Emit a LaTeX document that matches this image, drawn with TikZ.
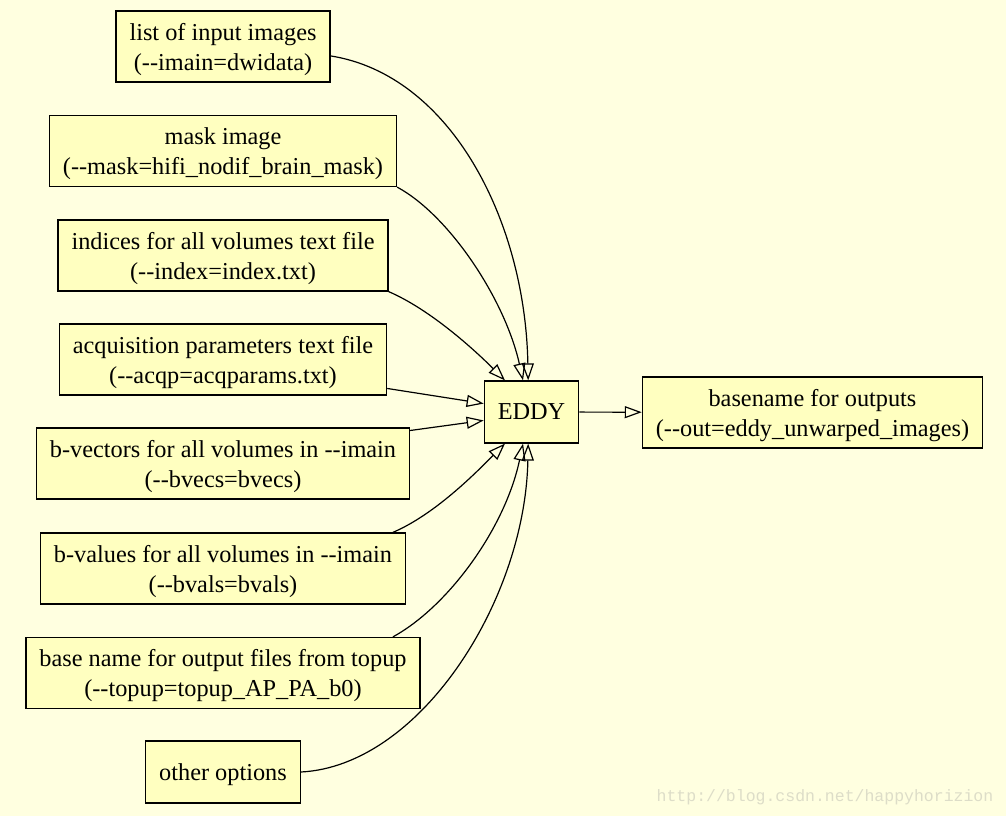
\documentclass[tikz,border=0pt]{standalone}
\usepackage{fontspec}
\setmainfont{Liberation Serif}[Ligatures=TeXOff]
\newfontfamily\markfont{Liberation Mono}
\usetikzlibrary{arrows.meta}
\definecolor{pagebg}{HTML}{FFFFE0}
\definecolor{boxfill}{HTML}{FFFFC0}
\definecolor{markgray}{HTML}{DDDDC8}

\begin{document}
\begin{tikzpicture}[x=1pt, y=-1pt, line width=1.2pt,
  >={Triangle[open, length=17pt, width=12pt]},
  opt/.style={draw, fill=boxfill, line width=1.2pt, align=center,
    inner xsep=13.5pt, inner ysep=0pt, minimum height=71pt, text height=52.5pt,
    font=\fontsize{24.3}{30}\selectfont}]
\fill[pagebg] (0,0) rectangle (1006,816);
\useasboundingbox (0,0) rectangle (1006,816);
%
\draw (531.5,412) node[opt, minimum height=62pt, text height=16pt] (eddy) {EDDY};
\draw (812.5,412.5) node[opt] (out) {basename for outputs\\(--out=eddy\_unwarped\_images)};
\path[draw, ->] (eddy) -- (out);
%
\draw (223,46.5) node[opt] (imain) {list of input images\\(--imain=dwidata)};
\path[draw, ->] (imain.-5) .. controls +(120,19) and +(-3,-160) .. (eddy.96);
%
\draw (223,151) node[opt] (mask) {mask image\\(--mask=hifi\_nodif\_brain\_mask)};
\path[draw, ->] (mask.south east) .. controls +(52,28) and +(-18,-81) .. (eddy.105);
%
\draw (223,255.5) node[opt] (index) {indices for all volumes text file\\(--index=index.txt)};
\path[draw, ->] (index.south east) .. controls +(42,18) and +(-30,-30) .. (eddy.130);
%
\draw (223,359.5) node[opt] (acqp) {acquisition parameters text file\\(--acqp=acqparams.txt)};
\path[draw, ->] (acqp.-10) -- (eddy.170);
%
\draw (223,463.5) node[opt] (bvecs) {b-vectors for all volumes in --imain\\(--bvecs=bvecs)};
\path[draw, ->] (bvecs.10) -- (eddy.190);
%
\draw (223,568.5) node[opt] (bvals) {b-values for all volumes in --imain\\(--bvals=bvals)};
\path[draw, ->] (bvals.12) .. controls +(42,-18) and +(-30,30) .. (eddy.-130);
%
\draw (223,673) node[opt] (topup) {base name for output files from topup\\(--topup=topup\_AP\_PA\_b0)};
\path[draw, ->] (topup.12) .. controls +(55,-30) and +(-18,85) .. (eddy.-105);
%
\draw (223,772) node[opt, minimum height=62pt, text height=23pt] (other) {other options};
\path[draw, ->] (other.east) .. controls +(119,-6) and +(-3,157) .. (eddy.-96);
%
\draw (825,797) node[text=markgray, font=\markfont\fontsize{16.5}{18}\selectfont] (mark) {http://blog.csdn.net/happyhorizion};
\end{tikzpicture}
\end{document}
